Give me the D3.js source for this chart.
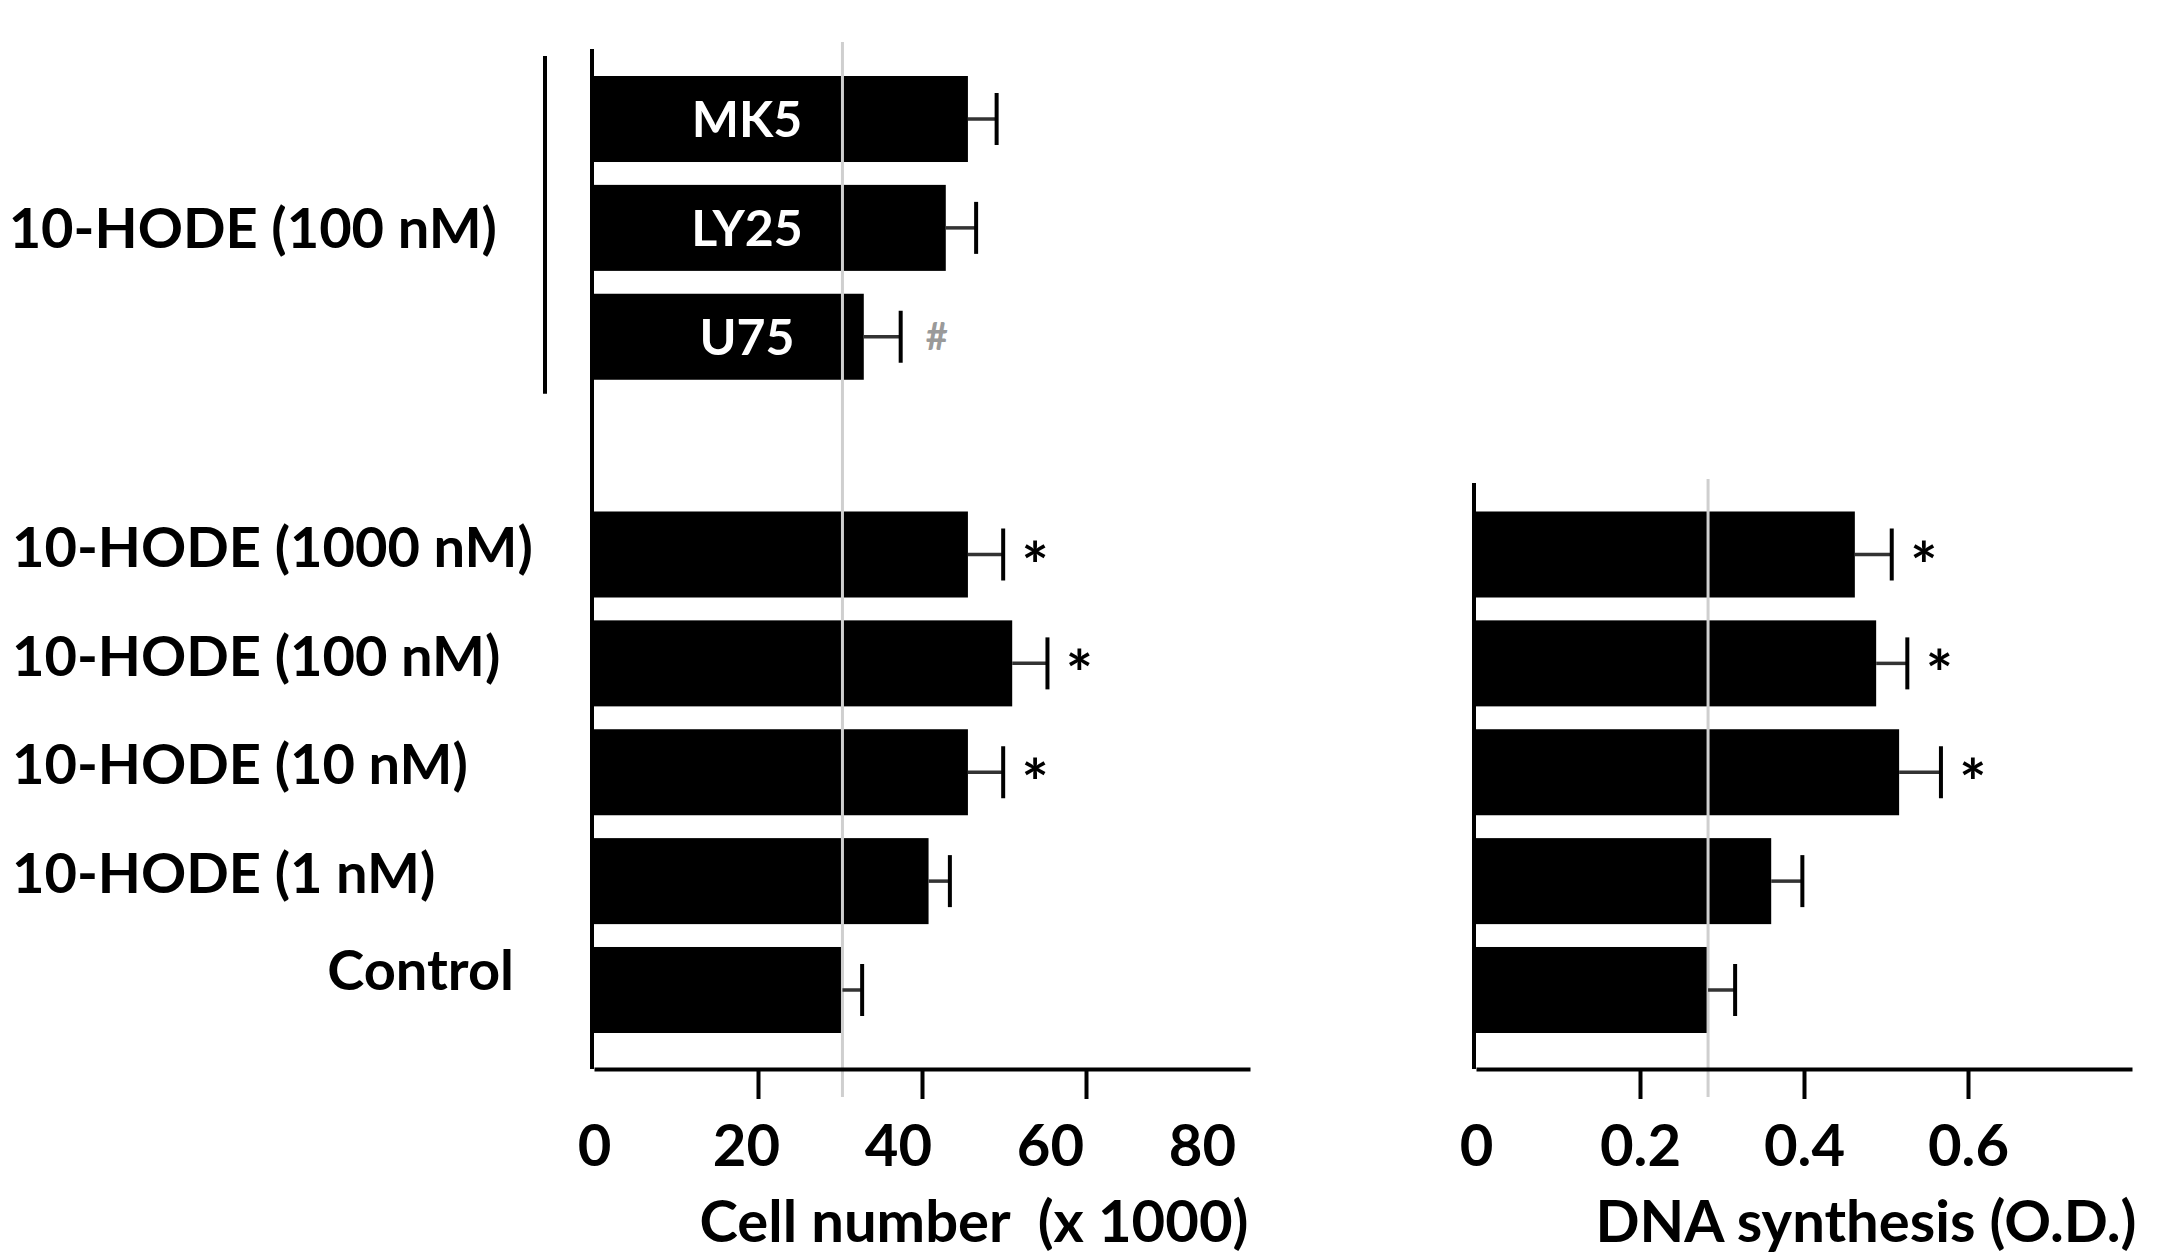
<!DOCTYPE html>
<html>
<head>
<meta charset="utf-8">
<script src="https://cdn.jsdelivr.net/npm/d3@7"></script>
<style>
  body { margin: 0; background: #fff; }
  text { font-family: Lato, "Open Sans", sans-serif; font-weight: 700; white-space: pre; }
</style>
</head>
<body>
<script>
// rows from top to bottom; "spacer" is the empty slot between the two groups
const rowKeys = ["MK5", "LY25", "U75", "spacer", "1000 nM", "100 nM", "10 nM", "1 nM", "Control"];

// 10-HODE (100 nM) + inhibitors, cell number only
const inhibitorNames = ["MK5", "LY25", "U75"];
const inhibitorCells = [45.6, 42.9, 32.9];
const inhibitorCellsErr = [3.5, 3.7, 4.5];
const inhibitorMarks = ["", "", "#"];

// dose response
const doseKeys = ["1000 nM", "100 nM", "10 nM", "1 nM", "Control"];
const doseLabels = ["10-HODE (1000 nM)", "10-HODE (100 nM)", "10-HODE (10 nM)", "10-HODE (1 nM)", "Control"];
const doseCells = [45.6, 51.0, 45.6, 40.8, 30.3];
const doseCellsErr = [4.3, 4.3, 4.3, 2.6, 2.4];
const doseCellsMarks = ["*", "*", "*", "", ""];
const doseDna = [0.462, 0.488, 0.516, 0.360, 0.283];
const doseDnaErr = [0.045, 0.038, 0.051, 0.038, 0.033];
const doseDnaMarks = ["*", "*", "*", "", ""];

const cellTicks = [0, 20, 40, 60, 80];
const dnaTicks = [0, 0.2, 0.4, 0.6];
const groupLabel = "10-HODE (100 nM)";
const cellTitle = "Cell number  (x 1000)";
const dnaTitle = "DNA synthesis (O.D.)";

const W = 2165, H = 1256;
const axisY = 1069;

const svg = d3.select("body").append("svg")
  .attr("width", W)
  .attr("height", H);

const y = d3.scaleBand().domain(rowKeys).range([76, 1033]).paddingInner(0.21);
const xCell = d3.scaleLinear().domain([0, 80]).range([594, 1250]);
const xDna = d3.scaleLinear().domain([0, 0.8]).range([1476, 2132]);

// rows for each panel
const cellRows = inhibitorNames.map((k, i) => ({ key: k, v: inhibitorCells[i], e: inhibitorCellsErr[i], mark: inhibitorMarks[i], inner: k }))
  .concat(doseKeys.map((k, i) => ({ key: k, v: doseCells[i], e: doseCellsErr[i], mark: doseCellsMarks[i], inner: "" })));
const dnaRows = doseKeys.map((k, i) => ({ key: k, v: doseDna[i], e: doseDnaErr[i], mark: doseDnaMarks[i] }));

function drawPanel(g, rows, x, ticks, fmt, axisTop, refTop, title, titleX) {
  // bars
  g.selectAll("rect.bar").data(rows).enter().append("rect")
    .attr("class", "bar")
    .attr("x", x(0))
    .attr("y", d => y(d.key))
    .attr("width", d => x(d.v) - x(0))
    .attr("height", y.bandwidth())
    .attr("fill", "#000");

  // reference line at control value
  const ctrl = rows.find(d => d.key === "Control").v;
  g.append("line")
    .attr("x1", x(ctrl)).attr("x2", x(ctrl))
    .attr("y1", refTop).attr("y2", axisY + 28)
    .attr("stroke", "#cfcfcf").attr("stroke-width", 3);

  // error bars
  const eb = g.selectAll("g.err").data(rows).enter().append("g").attr("class", "err");
  eb.append("line")
    .attr("x1", d => x(d.v)).attr("x2", d => x(d.v + d.e))
    .attr("y1", d => y(d.key) + y.bandwidth() / 2)
    .attr("y2", d => y(d.key) + y.bandwidth() / 2)
    .attr("stroke", "#333").attr("stroke-width", 3.5);
  eb.append("line")
    .attr("x1", d => x(d.v + d.e)).attr("x2", d => x(d.v + d.e))
    .attr("y1", d => y(d.key) + y.bandwidth() / 2 - 26)
    .attr("y2", d => y(d.key) + y.bandwidth() / 2 + 26)
    .attr("stroke", "#000").attr("stroke-width", 4);

  // significance marks
  eb.filter(d => d.mark === "*").append("text")
    .attr("x", d => x(d.v + d.e) + 32)
    .attr("y", d => y(d.key) + y.bandwidth() / 2 + 34)
    .attr("text-anchor", "middle")
    .attr("font-size", 64)
    .text(d => d.mark);
  eb.filter(d => d.mark === "#").append("text")
    .attr("x", d => x(d.v + d.e) + 36)
    .attr("y", d => y(d.key) + y.bandwidth() / 2 + 13)
    .attr("text-anchor", "middle")
    .attr("font-size", 38)
    .attr("fill", "#9a9a9a")
    .text(d => d.mark);

  // y axis line
  g.append("line")
    .attr("x1", x(0) - 2).attr("x2", x(0) - 2)
    .attr("y1", axisTop).attr("y2", axisY)
    .attr("stroke", "#000").attr("stroke-width", 4);

  // x axis
  const ax = g.append("g")
    .attr("transform", `translate(0,${axisY})`)
    .call(d3.axisBottom(x).tickValues(ticks).tickFormat(fmt).tickSize(30).tickSizeOuter(0).tickPadding(26));
  ax.select(".domain").attr("stroke", "#000").attr("stroke-width", 4);
  ax.selectAll(".tick line").attr("stroke", "#000").attr("stroke-width", 4)
    .filter(d => d === 0).remove();
  ax.selectAll(".tick text").attr("font-size", 58).attr("fill", "#000")
    .style("font-family", "Lato, sans-serif").style("font-weight", 700);

  g.append("text")
    .attr("x", titleX)
    .attr("y", 1242)
    .attr("text-anchor", "middle")
    .attr("font-size", 58)
    .text(title);
  return ax;
}

const left = svg.append("g");
const leftAxis = drawPanel(left, cellRows, xCell, cellTicks, d3.format("d"), 49, 42, cellTitle, 974);
// no tick mark at 80 in the original, and its labels sit a little left of the ticks
leftAxis.selectAll(".tick line").filter(d => d === 80).remove();
leftAxis.selectAll(".tick text").attr("x", d => -d * 0.6);

const right = svg.append("g");
drawPanel(right, dnaRows, xDna, dnaTicks, d => d === 0 ? "0" : d3.format(".1f")(d), 483, 479, dnaTitle, 1866);

// inhibitor names inside the bars
left.selectAll("text.inner").data(cellRows.filter(d => d.inner)).enter().append("text")
  .attr("class", "inner")
  .attr("x", 747)
  .attr("y", d => y(d.key) + y.bandwidth() / 2)
  .attr("dy", "0.36em")
  .attr("text-anchor", "middle")
  .attr("font-size", 50)
  .attr("fill", "#fff")
  .text(d => d.inner);

// group bracket and label
svg.append("line")
  .attr("x1", 545).attr("x2", 545)
  .attr("y1", y("MK5") - 20).attr("y2", y("U75") + y.bandwidth() + 14)
  .attr("stroke", "#000").attr("stroke-width", 4);
svg.append("text")
  .attr("x", 497)
  .attr("y", (y("MK5") + y("U75") + y.bandwidth()) / 2)
  .attr("dy", "0.36em")
  .attr("text-anchor", "end")
  .attr("font-size", 56)
  .text(groupLabel);

// dose labels
svg.selectAll("text.dose").data(doseKeys).enter().append("text")
  .attr("class", "dose")
  .attr("x", (d, i) => doseLabels[i] === "Control" ? 514 : 12)
  .attr("y", d => y(d) + y.bandwidth() / 2 - (d === "Control" ? 20 : 8))
  .attr("dy", "0.36em")
  .attr("text-anchor", (d, i) => doseLabels[i] === "Control" ? "end" : "start")
  .attr("font-size", 56)
  .text((d, i) => doseLabels[i]);
</script>
</body>
</html>
